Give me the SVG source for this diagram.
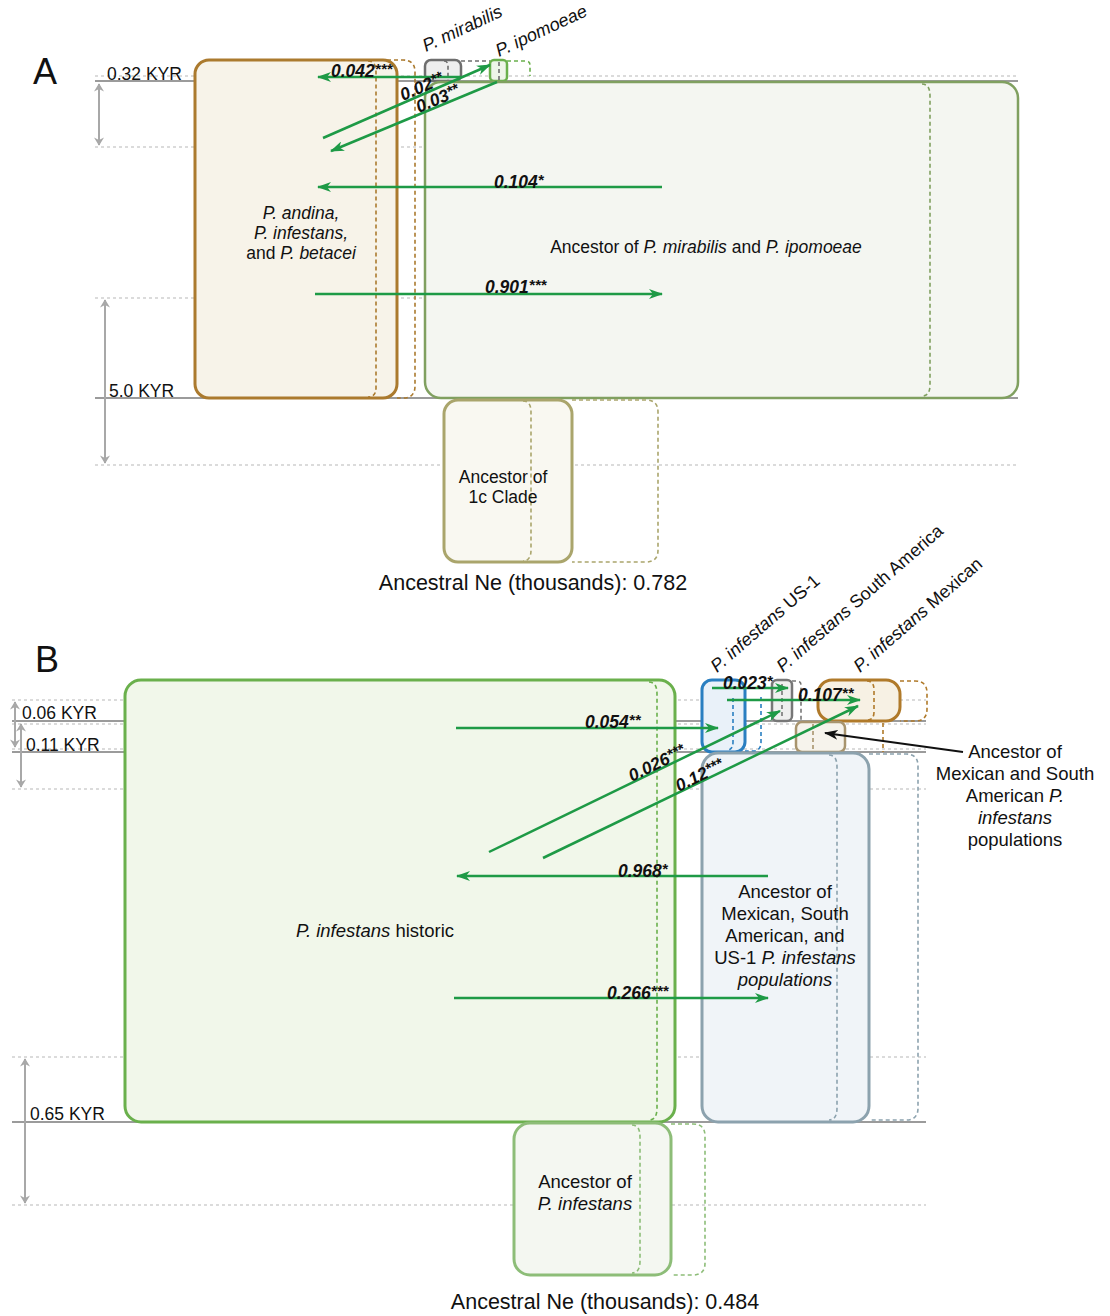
<svg xmlns="http://www.w3.org/2000/svg" width="1110" height="1316" viewBox="0 0 1110 1316">
<defs>
<style>
text{font-family:"Liberation Sans",Arial,sans-serif;fill:#111}
.pl{font-size:36px}
.ky{font-size:17.5px}
.lb{font-size:17.5px}
.rl{font-size:18px}
.lb17{font-size:18.5px}
.it{font-style:italic}
.mig{font-size:17.5px;font-weight:bold;font-style:italic}
.st{font-size:15px}
.dot{stroke:#b8b8b8;stroke-width:1.2;stroke-dasharray:3 3;fill:none}
.sol{stroke:#7a7a7a;stroke-width:1.4;fill:none}
.ga{stroke:#a8a8a8;stroke-width:2;fill:none}
.mg{stroke:#1e9a46;stroke-width:2.5;fill:none}
.dsh{fill:none;stroke-width:1.6;stroke-dasharray:4 3}
.ne{font-size:21.5px}
</style>
<marker id="ag" viewBox="0 0 14 10" refX="13" refY="5" markerWidth="14" markerHeight="10" markerUnits="userSpaceOnUse" orient="auto-start-reverse"><path d="M0,0 L14,5 L0,10 L4,5 z" fill="#1e9a46"/></marker>
<marker id="agr" viewBox="0 0 10 12" refX="9" refY="6" markerWidth="12" markerHeight="10" markerUnits="userSpaceOnUse" orient="auto-start-reverse"><path d="M0,0 L10,6 L0,12 L3,6 z" fill="#a8a8a8"/></marker>
<marker id="ab" viewBox="0 0 14 10" refX="13" refY="5" markerWidth="14" markerHeight="10" markerUnits="userSpaceOnUse" orient="auto"><path d="M0,0 L14,5 L0,10 L4,5 z" fill="#111"/></marker>
</defs>
<rect width="1110" height="1316" fill="#fff"/>

<g id="guides">
<text class="pl" x="33" y="84">A</text>
<line class="dot" x1="95" y1="76" x2="1018" y2="76"/>
<line class="sol" x1="95" y1="81" x2="1018" y2="81"/>
<line class="dot" x1="95" y1="147" x2="1018" y2="147"/>
<line class="dot" x1="95" y1="298" x2="1018" y2="298"/>
<line class="sol" x1="95" y1="398" x2="1018" y2="398"/>
<line class="dot" x1="95" y1="465" x2="1018" y2="465"/>
<line class="ga" x1="99" y1="84" x2="99" y2="145" marker-start="url(#agr)" marker-end="url(#agr)"/>
<line class="ga" x1="105" y1="300" x2="105" y2="463" marker-start="url(#agr)" marker-end="url(#agr)"/>
<text class="ky" x="107" y="80">0.32 KYR</text>
<text class="ky" x="109" y="397">5.0 KYR</text>
<line x1="386" y1="335" x2="394" y2="335" stroke="#aaa" stroke-width="2"/>

<text class="pl" x="35" y="672">B</text>
<line class="dot" x1="12" y1="700" x2="926" y2="700"/>
<line class="sol" x1="12" y1="721" x2="926" y2="721"/>
<line class="dot" x1="12" y1="724" x2="926" y2="724"/>
<line class="dot" x1="12" y1="749" x2="926" y2="749"/>
<line class="sol" x1="12" y1="752" x2="926" y2="752"/>
<line class="dot" x1="12" y1="789" x2="926" y2="789"/>
<line class="dot" x1="12" y1="1057" x2="926" y2="1057"/>
<line class="sol" x1="12" y1="1122" x2="926" y2="1122"/>
<line class="dot" x1="12" y1="1205" x2="926" y2="1205"/>
<line class="ga" x1="15" y1="702" x2="15" y2="747" marker-start="url(#agr)" marker-end="url(#agr)"/>
<line class="ga" x1="21" y1="724" x2="21" y2="787" marker-start="url(#agr)" marker-end="url(#agr)"/>
<line class="ga" x1="25" y1="1059" x2="25" y2="1203" marker-start="url(#agr)" marker-end="url(#agr)"/>
<text class="ky" x="22" y="719">0.06 KYR</text>
<text class="ky" x="26" y="751">0.11 KYR</text>
<text class="ky" x="30" y="1120">0.65 KYR</text>
</g>

<g id="node-andina">
<rect x="195" y="60" width="202" height="338" rx="14" fill="#f7f3e9" stroke="#ab7a2e" stroke-width="3"/>
<path class="dsh" stroke="#ab7a2e" d="M368,61 Q376,61 376,72 V388 Q376,397 368,397"/>
<path class="dsh" stroke="#ab7a2e" d="M380,60 H403 Q415,60 415,72 V386 Q415,398 403,398 H397"/>
<text class="lb it" x="301" y="219" text-anchor="middle">P. andina,</text>
<text class="lb it" x="301" y="239" text-anchor="middle">P. infestans,</text>
<text class="lb" x="301" y="259" text-anchor="middle">and <tspan class="it">P. betacei</tspan></text>
</g>

<g id="node-mirabilis">
<rect x="425" y="60" width="36" height="21" rx="6" fill="#eeeeee" stroke="#6e6e6e" stroke-width="2.5"/>
<path class="dsh" stroke="#6e6e6e" d="M444,61 Q448,61 448,66 V80"/>
<path class="dsh" stroke="#6e6e6e" d="M461,61 H490"/>
<text class="rl it" transform="translate(426,52) rotate(-25)">P. mirabilis</text>
</g>

<g id="node-ipomoeae">
<rect x="490" y="60" width="17" height="21" rx="4" fill="#eef5e8" stroke="#6ab04c" stroke-width="2.5"/>
<path class="dsh" stroke="#6e6e6e" d="M499,62 V80"/>
<path class="dsh" stroke="#6ab04c" d="M507,61 H526 Q530,61 530,65 V76"/>
<text class="rl it" transform="translate(499,57) rotate(-25)">P. ipomoeae</text>
</g>

<g id="node-anc-mir-ipo">
<rect x="425" y="82" width="593" height="316" rx="16" fill="#f4f6f1" stroke="#80a060" stroke-width="2.5"/>
<path class="dsh" stroke="#80a060" d="M922,84 Q930,84 930,96 V385 Q930,396 922,396"/>
<text class="lb" x="706" y="253" text-anchor="middle">Ancestor of <tspan class="it">P. mirabilis</tspan> and <tspan class="it">P. ipomoeae</tspan></text>
</g>

<g id="node-1c">
<rect x="444" y="400" width="128" height="162" rx="14" fill="#f9f8f1" stroke="#aaa56c" stroke-width="3"/>
<path class="dsh" stroke="#aaa56c" d="M523,401 Q531,401 531,412 V550 Q531,561 523,561"/>
<path class="dsh" stroke="#aaa56c" d="M572,400 H646 Q658,400 658,412 V550 Q658,562 646,562 H572"/>
<text class="lb" x="503" y="483" text-anchor="middle">Ancestor of</text>
<text class="lb" x="503" y="503" text-anchor="middle">1c Clade</text>
</g>
<text class="ne" x="533" y="590" text-anchor="middle">Ancestral Ne (thousands): 0.782</text>

<g id="node-historic">
<rect x="125" y="680" width="550" height="442" rx="16" fill="#f1f7ea" stroke="#6ab04c" stroke-width="3"/>
<path class="dsh" stroke="#6ab04c" d="M649,682 Q657,682 657,694 V1108 Q657,1120 649,1120"/>
<text class="lb17" x="375" y="937" text-anchor="middle"><tspan class="it">P. infestans</tspan> historic</text>
</g>

<g id="node-us1">
<rect x="702" y="680" width="43" height="72" rx="10" fill="#e9f1f9" stroke="#2a7fc1" stroke-width="3"/>
<path class="dsh" stroke="#2a7fc1" d="M733,698 V742 Q733,750 727,750"/>
<path class="dsh" stroke="#2a7fc1" d="M761,697 V742 Q761,751 753,751 H745"/>
<text class="rl" transform="translate(717,673) rotate(-41)"><tspan class="it">P. infestans</tspan> US-1</text>
</g>

<g id="node-sa">
<rect x="772" y="680" width="20" height="41" rx="5" fill="#efefef" stroke="#777" stroke-width="2.5"/>
<path class="dsh" stroke="#777" d="M782,684 V718"/>
<path class="dsh" stroke="#777" d="M792,681 H797 Q801,681 801,685 V721"/>
<text class="rl" transform="translate(783,673) rotate(-41)"><tspan class="it">P. infestans</tspan> South America</text>
</g>

<g id="node-mexican">
<rect x="818" y="680" width="82" height="41" rx="14" fill="#f7f1e4" stroke="#b07a2a" stroke-width="3"/>
<path class="dsh" stroke="#b07a2a" d="M867,681 Q874,681 874,690 V712 Q874,720 867,720"/>
<path class="dsh" stroke="#b07a2a" d="M900,681 H915 Q927,681 927,693 V709 Q927,721 915,721 H900"/>
<text class="rl" transform="translate(860,673) rotate(-41)"><tspan class="it">P. infestans</tspan> Mexican</text>
</g>

<g id="node-anc-msa">
<rect x="796" y="722" width="49" height="30" rx="6" fill="#f6f3ec" stroke="#a8946e" stroke-width="2.5"/>
<path class="dsh" stroke="#a8946e" d="M813,724 V750"/>
<path class="dsh" stroke="#b07a2a" d="M883,723 V752"/>
<text class="lb17" x="1015" y="758" text-anchor="middle">Ancestor of</text>
<text class="lb17" x="1015" y="780" text-anchor="middle">Mexican and South</text>
<text class="lb17" x="1015" y="802" text-anchor="middle">American <tspan class="it">P.</tspan></text>
<text class="lb17 it" x="1015" y="824" text-anchor="middle">infestans</text>
<text class="lb17" x="1015" y="846" text-anchor="middle">populations</text>
</g>

<g id="node-anc-msu">
<rect x="702" y="753" width="167" height="369" rx="16" fill="#f0f4f8" stroke="#8ca2ae" stroke-width="3"/>
<path class="dsh" stroke="#8ca2ae" d="M829,755 Q837,755 837,767 V1108 Q837,1120 829,1120"/>
<path class="dsh" stroke="#8ca2ae" d="M869,754 H906 Q918,754 918,766 V1108 Q918,1120 906,1120 H869"/>
<text class="lb17" x="785" y="898" text-anchor="middle">Ancestor of</text>
<text class="lb17" x="785" y="920" text-anchor="middle">Mexican, South</text>
<text class="lb17" x="785" y="942" text-anchor="middle">American, and</text>
<text class="lb17" x="785" y="964" text-anchor="middle">US-1 <tspan class="it">P. infestans</tspan></text>
<text class="lb17 it" x="785" y="986" text-anchor="middle">populations</text>
</g>

<g id="node-anc-infestans">
<rect x="514" y="1123" width="157" height="152" rx="16" fill="#f4f7f1" stroke="#8dbd78" stroke-width="3"/>
<path class="dsh" stroke="#8dbd78" d="M632,1125 Q640,1125 640,1137 V1261 Q640,1273 632,1273"/>
<path class="dsh" stroke="#8dbd78" d="M671,1124 H693 Q705,1124 705,1136 V1263 Q705,1275 693,1275 H671"/>
<text class="lb17" x="585" y="1188" text-anchor="middle">Ancestor of</text>
<text class="lb17 it" x="585" y="1210" text-anchor="middle">P. infestans</text>
</g>
<text class="ne" x="605" y="1309" text-anchor="middle">Ancestral Ne (thousands): 0.484</text>

<g id="connectors">
<path class="mg" d="M461,77 H318" marker-end="url(#ag)"/>
<path class="mg" d="M323,138 L490,65" marker-end="url(#ag)"/>
<path class="mg" d="M497,82 L331,151" marker-end="url(#ag)"/>
<path class="mg" d="M662,187 H318" marker-end="url(#ag)"/>
<path class="mg" d="M315,294 H662" marker-end="url(#ag)"/>
<text class="mig" x="331" y="77">0.042<tspan class="st" dy="-3">***</tspan></text>
<text class="mig" transform="translate(403,101) rotate(-23)">0.02<tspan class="st" dy="-3">**</tspan></text>
<text class="mig" transform="translate(419,113) rotate(-23)">0.03<tspan class="st" dy="-3">**</tspan></text>
<text class="mig" x="494" y="188">0.104<tspan class="st" dy="-3">*</tspan></text>
<text class="mig" x="485" y="293">0.901<tspan class="st" dy="-3">***</tspan></text>

<path class="mg" d="M712,688 H788" marker-end="url(#ag)"/>
<path class="mg" d="M727,700 H860" marker-end="url(#ag)"/>
<path class="mg" d="M456,728 H718" marker-end="url(#ag)"/>
<path class="mg" d="M489,852 L780,711" marker-end="url(#ag)"/>
<path class="mg" d="M543,858 L858,706" marker-end="url(#ag)"/>
<path class="mg" d="M768,876 H457" marker-end="url(#ag)"/>
<path class="mg" d="M454,998 H768" marker-end="url(#ag)"/>
<path d="M963,752 L825,733" stroke="#111" stroke-width="2" fill="none" marker-end="url(#ab)"/>
<text class="mig" x="723" y="689">0.023<tspan class="st" dy="-3">*</tspan></text>
<text class="mig" x="798" y="701">0.107<tspan class="st" dy="-3">**</tspan></text>
<text class="mig" x="585" y="728">0.054<tspan class="st" dy="-3">**</tspan></text>
<text class="mig" transform="translate(632,782) rotate(-26)">0.026<tspan class="st" dy="-3">***</tspan></text>
<text class="mig" transform="translate(679,792) rotate(-26)">0.12<tspan class="st" dy="-3">***</tspan></text>
<text class="mig" x="618" y="877">0.968<tspan class="st" dy="-3">*</tspan></text>
<text class="mig" x="607" y="999">0.266<tspan class="st" dy="-3">***</tspan></text>
</g>
</svg>
